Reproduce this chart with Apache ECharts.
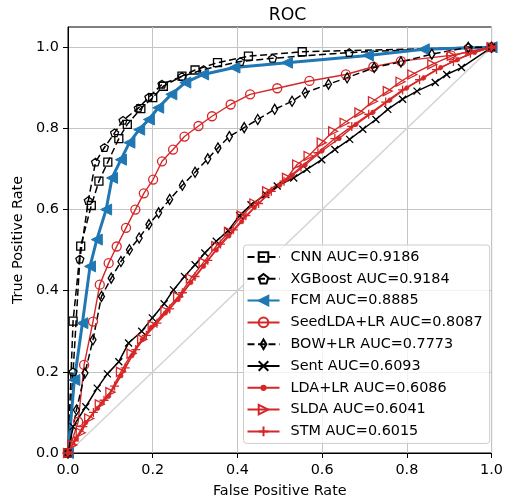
<!DOCTYPE html>
<html><head><meta charset="utf-8">
<script src="https://cdn.jsdelivr.net/npm/echarts@6/dist/echarts.min.js"></script>
<style>html,body{margin:0;padding:0;background:#fff}#c{width:506px;height:504px}</style>
</head><body><div id="c"></div>
<script>
// ---- data ----
const legendNames = ['CNN AUC=0.9186','XGBoost AUC=0.9184','FCM AUC=0.8885','SeedLDA+LR AUC=0.8087','BOW+LR AUC=0.7773','Sent AUC=0.6093','LDA+LR AUC=0.6086','SLDA AUC=0.6041','STM AUC=0.6015'];
const xTicks = [0, 0.2, 0.4, 0.6, 0.8, 1.0];
const yTicks = [0, 0.2, 0.4, 0.6, 0.8, 1.0];
const chanceX = [0, 1];
const chanceY = [0, 1];

const cnnX = [0, 0.012, 0.03, 0.055, 0.073, 0.094, 0.12, 0.14, 0.172, 0.2, 0.225, 0.269, 0.3, 0.353, 0.426, 0.553, 1.0];
const cnnY = [0, 0.325, 0.51, 0.61, 0.67, 0.717, 0.775, 0.81, 0.849, 0.876, 0.904, 0.929, 0.944, 0.962, 0.978, 0.989, 1.0];

const xgbX = [0, 0.012, 0.028, 0.048, 0.065, 0.086, 0.11, 0.13, 0.166, 0.191, 0.222, 0.269, 0.32, 0.407, 0.483, 0.664, 0.945, 1.0];
const xgbY = [0, 0.2, 0.478, 0.622, 0.717, 0.753, 0.789, 0.82, 0.85, 0.877, 0.909, 0.928, 0.945, 0.965, 0.973, 0.987, 1.0, 1.0];

const fcmX = [0, 0.015, 0.034, 0.052, 0.068, 0.09, 0.104, 0.125, 0.145, 0.168, 0.191, 0.213, 0.244, 0.277, 0.319, 0.393, 0.517, 0.708, 0.84, 1.0];
const fcmY = [0, 0.18, 0.32, 0.46, 0.526, 0.6, 0.678, 0.723, 0.765, 0.797, 0.822, 0.851, 0.884, 0.913, 0.933, 0.95, 0.962, 0.98, 0.995, 1.0];

const seedX = [0, 0.024, 0.038, 0.059, 0.075, 0.096, 0.115, 0.137, 0.159, 0.179, 0.201, 0.222, 0.248, 0.275, 0.308, 0.34, 0.384, 0.43, 0.494, 0.57, 0.656, 0.721, 0.786, 0.904, 1.0];
const seedY = [0, 0.077, 0.217, 0.324, 0.415, 0.468, 0.509, 0.555, 0.6, 0.64, 0.674, 0.719, 0.748, 0.78, 0.806, 0.83, 0.859, 0.884, 0.899, 0.917, 0.933, 0.952, 0.966, 0.98, 1.0];

const bowX = [0, 0.02, 0.04, 0.059, 0.079, 0.102, 0.125, 0.145, 0.168, 0.191, 0.214, 0.24, 0.27, 0.3, 0.33, 0.354, 0.381, 0.416, 0.448, 0.488, 0.529, 0.56, 0.615, 0.659, 0.723, 0.786, 0.859, 0.945, 1.0];
const bowY = [0, 0.106, 0.197, 0.279, 0.386, 0.431, 0.472, 0.501, 0.53, 0.563, 0.592, 0.625, 0.66, 0.692, 0.725, 0.752, 0.78, 0.802, 0.822, 0.847, 0.867, 0.888, 0.909, 0.925, 0.95, 0.964, 0.983, 1.0, 1.0];

const sentX = [0, 0.012, 0.042, 0.069, 0.093, 0.12, 0.143, 0.174, 0.199, 0.227, 0.249, 0.275, 0.3, 0.323, 0.35, 0.378, 0.405, 0.432, 0.467, 0.494, 0.533, 0.564, 0.599, 0.63, 0.665, 0.696, 0.727, 0.755, 0.79, 0.824, 0.867, 0.894, 0.929, 1.0];
const sentY = [0, 0.065, 0.114, 0.16, 0.195, 0.225, 0.271, 0.3, 0.333, 0.368, 0.402, 0.435, 0.464, 0.493, 0.522, 0.548, 0.585, 0.612, 0.637, 0.658, 0.678, 0.699, 0.723, 0.748, 0.773, 0.798, 0.822, 0.847, 0.872, 0.892, 0.913, 0.933, 0.95, 1.0];

const ldaX = [0, 0.02, 0.042, 0.07, 0.096, 0.125, 0.151, 0.175, 0.197, 0.23, 0.26, 0.29, 0.32, 0.35, 0.38, 0.41, 0.44, 0.47, 0.5, 0.53, 0.56, 0.6, 0.64, 0.68, 0.72, 0.76, 0.8, 0.84, 0.88, 0.92, 0.96, 1.0];
const ldaY = [0, 0.035, 0.075, 0.11, 0.14, 0.19, 0.24, 0.28, 0.31, 0.345, 0.378, 0.42, 0.46, 0.5, 0.535, 0.57, 0.605, 0.635, 0.66, 0.685, 0.71, 0.745, 0.775, 0.81, 0.84, 0.87, 0.9, 0.925, 0.95, 0.97, 0.987, 1.0];

const sldaX = [0, 0.01, 0.03, 0.05, 0.075, 0.1, 0.125, 0.15, 0.175, 0.2, 0.23, 0.26, 0.29, 0.32, 0.35, 0.38, 0.41, 0.44, 0.47, 0.517, 0.541, 0.568, 0.599, 0.626, 0.653, 0.688, 0.72, 0.755, 0.785, 0.813, 0.86, 0.906, 0.95, 1.0];
const sldaY = [0, 0.02, 0.05, 0.085, 0.12, 0.15, 0.2, 0.245, 0.28, 0.315, 0.35, 0.385, 0.43, 0.47, 0.51, 0.545, 0.585, 0.615, 0.645, 0.678, 0.711, 0.732, 0.765, 0.793, 0.814, 0.839, 0.867, 0.892, 0.915, 0.933, 0.958, 0.979, 0.99, 1.0];

const stmX = [0, 0.015, 0.035, 0.06, 0.085, 0.11, 0.135, 0.16, 0.185, 0.21, 0.24, 0.27, 0.3, 0.33, 0.36, 0.39, 0.42, 0.45, 0.48, 0.51, 0.55, 0.59, 0.63, 0.67, 0.71, 0.75, 0.79, 0.83, 0.87, 0.91, 0.95, 1.0];
const stmY = [0, 0.03, 0.065, 0.1, 0.13, 0.165, 0.21, 0.255, 0.29, 0.32, 0.355, 0.395, 0.435, 0.475, 0.515, 0.55, 0.585, 0.615, 0.645, 0.67, 0.705, 0.74, 0.775, 0.805, 0.835, 0.865, 0.895, 0.92, 0.945, 0.965, 0.985, 1.0];

// ---- rendering ----
const FONT = 'DejaVu Sans';
const BLUE = '#1f77b4', RED = '#d62728', BLACK = '#000000', NONE = 'rgba(0,0,0,0)';
const P_PENT = 'path://M0,-1L0.951,-0.309L0.588,0.809L-0.588,0.809L-0.951,-0.309Z';
const P_LTRI = 'path://M0,5L10,0L10,10Z';
const P_RTRI = 'path://M10,5L0,0L0,10Z';
const P_X = 'path://M0,0L10,10M10,0L0,10';
const P_PLUS = 'path://M5,0L5,10M0,5L10,5';
const P_TDIA = 'path://M0,0L0,0M10,0L10,0M5,0L8,5L5,10L2,5Z';
const P_DOT = 'path://M0,0L0,0M10,10L10,10M7.2,5A2.2,2.2,0,1,1,2.8,5A2.2,2.2,0,1,1,7.2,5Z';
const DASH = [7, 3.5];

function zip(xs, ys) { return xs.map((x, i) => [x, ys[i]]); }

function mk(name, xs, ys, opt) {
  return {
    name: name, type: 'line', data: zip(xs, ys),
    showAllSymbol: true, symbol: opt.symbol, symbolSize: opt.size, symbolKeepAspect: true,
    lineStyle: { color: opt.color, width: opt.lw, type: opt.dash || 'solid' },
    itemStyle: { color: opt.fill, borderColor: opt.color, borderWidth: opt.bw },
    emphasis: { disabled: true }, z: 3
  };
}

const series = [
  { name: 'chance', type: 'line', data: zip(chanceX, chanceY), symbol: 'none',
    lineStyle: { color: '#d3d3d3', width: 1.5 }, z: 2, emphasis: { disabled: true } },
  mk(legendNames[0], cnnX, cnnY, { symbol: 'rect', size: 8, color: BLACK, fill: NONE, lw: 1.5, bw: 1.3, dash: DASH }),
  mk(legendNames[1], xgbX, xgbY, { symbol: P_PENT, size: 8, color: BLACK, fill: NONE, lw: 1.5, bw: 1.3, dash: DASH }),
  mk(legendNames[2], fcmX, fcmY, { symbol: P_LTRI, size: 11, color: BLUE, fill: BLUE, lw: 3, bw: 1 }),
  mk(legendNames[3], seedX, seedY, { symbol: 'circle', size: 9, color: RED, fill: NONE, lw: 1.4, bw: 1.3 }),
  mk(legendNames[4], bowX, bowY, { symbol: P_TDIA, size: 10, color: BLACK, fill: NONE, lw: 1.5, bw: 1.3, dash: DASH }),
  mk(legendNames[5], sentX, sentY, { symbol: P_X, size: 7, color: BLACK, fill: NONE, lw: 1.5, bw: 1.3 }),
  mk(legendNames[6], ldaX, ldaY, { symbol: P_DOT, size: 10, color: RED, fill: RED, lw: 1.4, bw: 0.6 }),
  mk(legendNames[7], sldaX, sldaY, { symbol: P_RTRI, size: 9, color: RED, fill: NONE, lw: 1.4, bw: 1.3 }),
  mk(legendNames[8], stmX, stmY, { symbol: P_PLUS, size: 9, color: RED, fill: NONE, lw: 1.4, bw: 1.3 })
];

const axisText = { fontFamily: FONT, fontSize: 14.4, color: '#000' };

const chart = echarts.init(document.getElementById('c'), null, { renderer: 'canvas' });
chart.setOption({
  animation: false,
  backgroundColor: '#fff',
  title: { text: 'ROC', left: 282.5, textAlign: 'center', top: 2,
    textStyle: { fontFamily: FONT, fontSize: 17.3, fontWeight: 'normal', color: '#000' } },
  grid: { left: 68, right: 9, top: 27, bottom: 51, show: true, borderColor: '#000', borderWidth: 1, backgroundColor: 'transparent' },
  xAxis: {
    type: 'value', min: 0, max: 1, interval: 0.2,
    name: 'False Positive Rate', nameLocation: 'middle', nameGap: 31, nameTextStyle: axisText,
    axisLine: { show: true, onZero: false, lineStyle: { color: '#000', width: 1 } },
    axisTick: { show: true, length: 5, inside: false, lineStyle: { color: '#000', width: 1 } },
    axisLabel: Object.assign({ margin: 10, formatter: v => v.toFixed(1), customValues: xTicks }, axisText),
    splitLine: { show: true, lineStyle: { color: '#c4c4c4', width: 1 } }
  },
  yAxis: {
    type: 'value', min: 0, max: 1.05, interval: 0.2,
    name: 'True Positive Rate', nameLocation: 'middle', nameGap: 42, nameTextStyle: axisText,
    axisLine: { show: true, onZero: false, lineStyle: { color: '#000', width: 1 } },
    axisTick: { show: true, length: 5, inside: false, customValues: yTicks, lineStyle: { color: '#000', width: 1 } },
    axisLabel: Object.assign({ margin: 9, formatter: v => v.toFixed(1), customValues: yTicks }, axisText),
    splitLine: { show: true, lineStyle: { color: '#c4c4c4', width: 1 } }
  },
  legend: {
    data: legendNames, orient: 'vertical', left: 243.5, top: 245,
    itemWidth: 32, itemHeight: 12, itemGap: 7.8,
    padding: [5, 7, 5, 3],
    backgroundColor: 'rgba(255,255,255,0.8)', borderColor: '#cccccc', borderWidth: 1, borderRadius: 3,
    textStyle: { fontFamily: FONT, fontSize: 14.4, color: '#000', lineHeight: 14, padding: [0, 0, 0, 6] },
    selectedMode: false
  },
  series: series
});
</script>
</body></html>
